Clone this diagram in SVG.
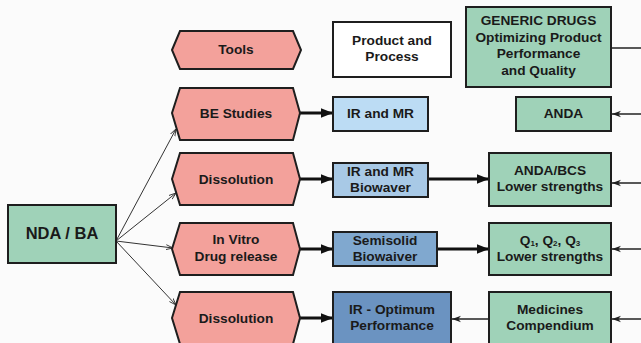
<svg xmlns="http://www.w3.org/2000/svg" width="641" height="343" viewBox="0 0 641 343">
  <defs>
    <style>
      .hex { fill: #f3a19b; stroke: #1e1e1e; stroke-width: 2; }
      .green { fill: #9fd2b8; stroke: #1e1e1e; stroke-width: 2; }
      .white { fill: #ffffff; stroke: #1e1e1e; stroke-width: 2; }
      .b1 { fill: #bcdcf4; stroke: #1e1e1e; stroke-width: 2; }
      .b2 { fill: #a8c9e6; stroke: #1e1e1e; stroke-width: 2; }
      .b3 { fill: #80a8cf; stroke: #1e1e1e; stroke-width: 2; }
      .b4 { fill: #6b93c1; stroke: #1e1e1e; stroke-width: 2; }
      text { font-family: "Liberation Sans", Arial, sans-serif; font-weight: bold; font-size: 13.7px; fill: #1a1a1a; text-anchor: middle; }
      .thick { stroke: #111; stroke-width: 3; fill: none; }
      .thin { stroke: #222; stroke-width: 1.5; fill: none; }
      .fan { stroke: #333; stroke-width: 1; fill: none; }
    </style>
    <marker id="ah-thick" viewBox="0 0 10 10" refX="10" refY="5" markerWidth="4" markerHeight="4" orient="auto" markerUnits="strokeWidth">
      <path d="M0,1 L10,5 L0,9 Z" fill="#111"/>
    </marker>
    <marker id="ah-thin" viewBox="0 0 10 10" refX="10" refY="5" markerWidth="6" markerHeight="6" orient="auto" markerUnits="strokeWidth">
      <path d="M0,1.5 L10,5 L0,8.5 L3,5 Z" fill="#222"/>
    </marker>
    <marker id="ah-fan" viewBox="0 0 10 10" refX="10" refY="5" markerWidth="7" markerHeight="7" orient="auto" markerUnits="strokeWidth">
      <path d="M0,1.5 L10,5 L0,8.5" fill="none" stroke="#333" stroke-width="1.3"/>
    </marker>
  </defs>
  <rect x="0" y="0" width="641" height="343" fill="#fbfbfb"/>

  <g id="connectors">
    <line class="fan" x1="116" y1="241" x2="176" y2="129" marker-end="url(#ah-fan)"/>
    <line class="fan" x1="116" y1="241" x2="176" y2="193" marker-end="url(#ah-fan)"/>
    <line class="fan" x1="116" y1="241" x2="173" y2="248" marker-end="url(#ah-fan)"/>
    <line class="fan" x1="116" y1="241" x2="176" y2="305" marker-end="url(#ah-fan)"/>
    <line class="thick" x1="300" y1="113" x2="333" y2="113" marker-end="url(#ah-thick)"/>
    <line class="thick" x1="300" y1="179" x2="333" y2="179" marker-end="url(#ah-thick)"/>
    <line class="thick" x1="300" y1="249" x2="333" y2="249" marker-end="url(#ah-thick)"/>
    <line class="thick" x1="300" y1="318" x2="333" y2="318" marker-end="url(#ah-thick)"/>
    <line class="thick" x1="428" y1="179" x2="489" y2="179" marker-end="url(#ah-thick)"/>
    <line class="thick" x1="437" y1="249" x2="489" y2="249" marker-end="url(#ah-thick)"/>
    <line class="thin" x1="489" y1="319" x2="452" y2="319" marker-end="url(#ah-thin)"/>
    <line class="thin" x1="611" y1="48" x2="641" y2="48"/>
    <line class="thin" x1="641" y1="114" x2="612" y2="114" marker-end="url(#ah-thin)"/>
    <line class="thin" x1="641" y1="183" x2="612" y2="183" marker-end="url(#ah-thin)"/>
    <line class="thin" x1="641" y1="249" x2="612" y2="249" marker-end="url(#ah-thin)"/>
    <line class="thin" x1="641" y1="319" x2="612" y2="319" marker-end="url(#ah-thin)"/>
  </g>

  <g id="nda">
    <rect class="green" x="8" y="205" width="108" height="58"/>
    <text x="62" y="239" style="font-size:16.5px">NDA / BA</text>
  </g>

  <g id="tools">
    <polygon class="hex" points="172,50 180,31 293,31 301,50 293,69 180,69"/>
    <text x="236" y="54">Tools</text>
  </g>
  <g id="be-studies">
    <polygon class="hex" points="172,113 180,88 293,88 300,113 293,140 180,140"/>
    <text x="236" y="117.5">BE Studies</text>
  </g>
  <g id="dissolution-1">
    <polygon class="hex" points="172,179 180,153 293,153 300,179 293,205 180,205"/>
    <text x="236" y="184">Dissolution</text>
  </g>
  <g id="in-vitro">
    <polygon class="hex" points="172,249 180,223 293,223 300,249 293,275 180,275"/>
    <text x="236" y="244">In Vitro</text>
    <text x="236" y="261">Drug release</text>
  </g>
  <g id="dissolution-2">
    <polygon class="hex" points="172,318 180,292 293,292 300,318 293,344 180,344"/>
    <text x="236" y="323">Dissolution</text>
  </g>

  <g id="product-process">
    <rect class="white" x="333" y="22" width="118" height="55"/>
    <text x="392" y="45">Product and</text>
    <text x="392" y="61">Process</text>
  </g>
  <g id="ir-mr">
    <rect class="b1" x="333" y="97" width="95" height="34"/>
    <text x="380.5" y="118">IR and MR</text>
  </g>
  <g id="ir-mr-biowaver">
    <rect class="b2" x="333" y="163" width="95" height="34"/>
    <text x="380.5" y="176">IR and MR</text>
    <text x="380.5" y="192">Biowaver</text>
  </g>
  <g id="semisolid">
    <rect class="b3" x="333" y="232" width="104" height="34"/>
    <text x="385" y="245">Semisolid</text>
    <text x="385" y="261">Biowaiver</text>
  </g>
  <g id="ir-optimum">
    <rect class="b4" x="333" y="292" width="118" height="55"/>
    <text x="392" y="314">IR - Optimum</text>
    <text x="392" y="330">Performance</text>
  </g>

  <g id="generic-drugs">
    <rect class="green" x="466" y="7" width="145" height="80"/>
    <text x="538.5" y="25">GENERIC DRUGS</text>
    <text x="538.5" y="41.5">Optimizing Product</text>
    <text x="538.5" y="58">Performance</text>
    <text x="538.5" y="74.5">and Quality</text>
  </g>
  <g id="anda">
    <rect class="green" x="516" y="97" width="95" height="34"/>
    <text x="563.5" y="118">ANDA</text>
  </g>
  <g id="anda-bcs">
    <rect class="green" x="489" y="153" width="122" height="53"/>
    <text x="550" y="175">ANDA/BCS</text>
    <text x="550" y="191">Lower strengths</text>
  </g>
  <g id="q-strengths">
    <rect class="green" x="489" y="223" width="122" height="52"/>
    <text x="550" y="245">Q<tspan style="font-size:8px" dy="1">1</tspan><tspan dy="-1">, Q</tspan><tspan style="font-size:8px" dy="1">2</tspan><tspan dy="-1">, Q</tspan><tspan style="font-size:8px" dy="1">3</tspan></text>
    <text x="550" y="261">Lower strengths</text>
  </g>
  <g id="medicines">
    <rect class="green" x="489" y="292" width="122" height="55"/>
    <text x="550" y="314">Medicines</text>
    <text x="550" y="330">Compendium</text>
  </g>
</svg>
